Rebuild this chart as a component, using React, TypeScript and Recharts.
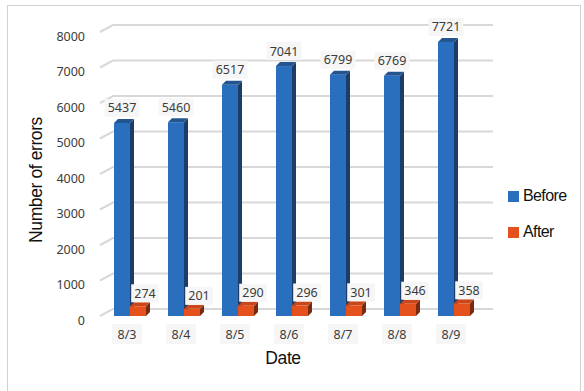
import React from "react";
import {
  BarChart,
  Bar,
  XAxis,
  YAxis,
  CartesianGrid,
  Legend,
  LabelList,
} from "recharts";

const dates = ["8/3", "8/4", "8/5", "8/6", "8/7", "8/8", "8/9"];
const before = [5437, 5460, 6517, 7041, 6799, 6769, 7721];
const after = [274, 201, 290, 296, 301, 346, 358];
const yTicks = [0, 1000, 2000, 3000, 4000, 5000, 6000, 7000, 8000];

const data = dates.map((date, i) => ({ date, before: before[i], after: after[i] }));

const DEPTH = 4;
const TEXT = "#3c3c3c";
const NUM_FONT = "'Noto Sans', 'Open Sans', sans-serif";
const TITLE_FONT = "'Liberation Sans', Arial, sans-serif";

// front face + right side + top cap, so the columns look like boxes
const boxShape = (front: string, side: string, top: string) => (props: any) => {
  const { x, y, width, height } = props;
  if (width == null || height == null) return null;
  const d = DEPTH;
  return (
    <g>
      <polygon
        points={`${x + width},${y} ${x + width + d},${y - d} ${x + width + d},${y + height - d} ${x + width},${y + height}`}
        fill={side}
      />
      <polygon
        points={`${x},${y} ${x + d},${y - d} ${x + width + d},${y - d} ${x + width},${y}`}
        fill={top}
      />
      <rect x={x} y={y} width={width} height={height} fill={front} />
    </g>
  );
};

// grid line on the back wall with a short slanted segment on the floor edge
const gridLine = (p: any) => {
  const { x1, x2, y1 } = p;
  return (
    <polyline
      key={p.key}
      points={`${x1 - 3},${y1} ${x1 + 10},${y1 - 7} ${x2 + 12},${y1 - 7}`}
      stroke="#d8d8d8"
      strokeWidth={2}
      fill="none"
    />
  );
};

const valueLabel = (dx: number, dy: number) => (props: any) => {
  const { x, y, width, value } = props;
  const cx = x + width / 2 + dx;
  const cy = y - dy;
  const w = String(value).length * 7.2 + 6;
  return (
    <g>
      <rect x={cx - w / 2} y={cy - 9} width={w} height={18} fill="#f6f6f6" />
      <text
        x={cx}
        y={cy}
        textAnchor="middle"
        dominantBaseline="central"
        fontSize={12.5}
        fontFamily={NUM_FONT}
        fill={TEXT}
      >
        {value}
      </text>
    </g>
  );
};

const DateTick = (props: any) => {
  const { x, y, payload } = props;
  const cx = x - 3;
  const cy = y + 10;
  return (
    <g>
      <rect x={cx - 15} y={cy - 10} width={30} height={20} fill="#f6f6f6" />
      <text
        x={cx}
        y={cy}
        textAnchor="middle"
        dominantBaseline="central"
        fontSize={12.5}
        fontFamily={NUM_FONT}
        fill={TEXT}
      >
        {payload.value}
      </text>
    </g>
  );
};

const CountTick = (props: any) => {
  const { y, payload } = props;
  return (
    <text
      x={85}
      y={y + 4}
      textAnchor="end"
      dominantBaseline="central"
      fontSize={12.5}
      fontFamily={NUM_FONT}
      fill={TEXT}
    >
      {payload.value}
    </text>
  );
};

const legendItems = [
  { name: "Before", color: "#2a6fbd" },
  { name: "After", color: "#e4511c" },
];

const LegendBox = () => (
  <div style={{ fontFamily: TITLE_FONT, fontSize: 16, letterSpacing: -0.6, color: "#111" }}>
    {legendItems.map((it) => (
      <div key={it.name} style={{ display: "flex", alignItems: "center", height: 36 }}>
        <span
          style={{ width: 11, height: 11, background: it.color, display: "inline-block", marginRight: 4 }}
        />
        {it.name}
      </div>
    ))}
  </div>
);

export default function App() {
  return (
    <div
      style={{
        position: "absolute",
        left: 0,
        top: 0,
        width: 584,
        height: 391,
        overflow: "hidden",
        background: "#fff",
      }}
    >
      <div
        style={{
          position: "absolute",
          left: 7,
          top: 5,
          width: 572,
          height: 400,
          border: "1px solid #d2d2d2",
        }}
      />
      <BarChart
        width={584}
        height={391}
        data={data}
        margin={{ top: 32, right: 103, bottom: 45, left: 43 }}
        barGap={0}
        barSize={16}
      >
        <CartesianGrid vertical={false} horizontal={gridLine} />
        <XAxis
          dataKey="date"
          axisLine={false}
          tickLine={false}
          height={30}
          tick={<DateTick />}
          label={{
            content: () => (
              <text
                x={283}
                y={358}
                textAnchor="middle"
                dominantBaseline="central"
                fontSize={17.5}
                fontFamily={TITLE_FONT}
                letterSpacing={-0.4}
                fill="#111"
              >
                Date
              </text>
            ),
          }}
        />
        <YAxis
          width={60}
          domain={[0, 8000]}
          ticks={yTicks}
          axisLine={false}
          tickLine={false}
          tick={<CountTick />}
          label={{
            content: () => (
              <text
                x={36}
                y={180}
                transform="rotate(-90 36 180)"
                textAnchor="middle"
                dominantBaseline="central"
                fontSize={17.5}
                fontFamily={TITLE_FONT}
                letterSpacing={-0.4}
                fill="#111"
              >
                Number of errors
              </text>
            ),
          }}
        />
        <Legend
          layout="horizontal"
          verticalAlign="middle"
          align="center"
          content={<LegendBox />}
          wrapperStyle={{ position: "absolute", left: 508, top: 178, width: 76 }}
        />
        <Bar
          dataKey="before"
          name="Before"
          fill="#2a6fbd"
          isAnimationActive={false}
          shape={boxShape("#2a6fbd", "#1c3d68", "#24558f")}
        >
          <LabelList dataKey="before" content={valueLabel(0, 15)} />
        </Bar>
        <Bar
          dataKey="after"
          name="After"
          fill="#e4511c"
          isAnimationActive={false}
          shape={boxShape("#e4511c", "#7a2a0e", "#c9451a")}
        >
          <LabelList dataKey="after" content={valueLabel(7, 13)} />
        </Bar>
      </BarChart>
    </div>
  );
}
